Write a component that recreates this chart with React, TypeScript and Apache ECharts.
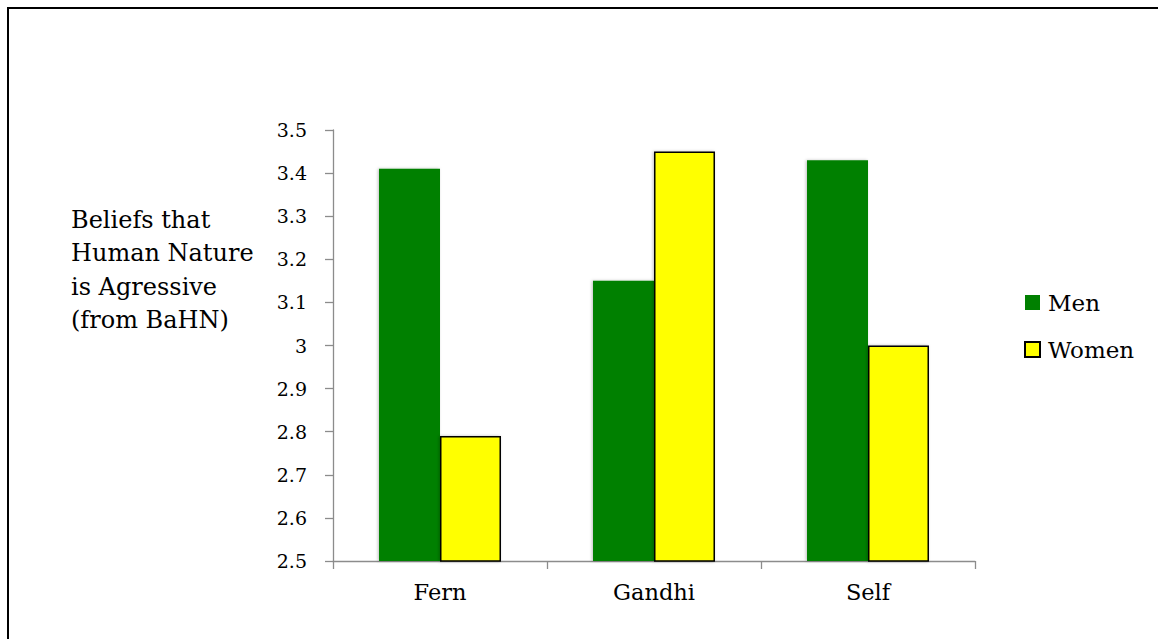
import React, { useEffect, useRef } from "react";
import * as echarts from "echarts";

const categories = ["Fern", "Gandhi", "Self"];
const menValues = [3.41, 3.15, 3.43];
const womenValues = [2.79, 3.45, 3.0];
const seriesNames = ["Men", "Women"];
const yAxisTitle = "Beliefs that\nHuman Nature\nis Agressive\n(from BaHN)";

const FONT = "DejaVu Serif";
const AXIS_COLOR = "#8c8c8c";

export default function App() {
  const ref = useRef<HTMLDivElement>(null);

  useEffect(() => {
    if (!ref.current) return;
    const chart = echarts.init(ref.current, null, { renderer: "svg" });
    chart.setOption({
      animation: false,
      backgroundColor: "#ffffff",
      textStyle: { fontFamily: FONT, color: "#000" },
      grid: { left: 333, right: 183, top: 130, bottom: 78, containLabel: false },
      legend: {
        orient: "vertical",
        left: 1019,
        top: 286,
        itemWidth: 15,
        itemHeight: 15,
        itemGap: 24,
        icon: "rect",
        textStyle: { fontFamily: FONT, fontSize: 23, color: "#000", padding: [0, 0, 0, 3] },
        data: seriesNames,
      },
      xAxis: {
        type: "category",
        data: categories,
        axisLine: { lineStyle: { color: AXIS_COLOR, width: 1.3 } },
        axisTick: { show: true, length: 8, lineStyle: { color: AXIS_COLOR, width: 1.3 } },
        axisLabel: { fontFamily: FONT, fontSize: 22.5, color: "#000", margin: 19 },
      },
      yAxis: {
        type: "value",
        min: 2.5,
        max: 3.5,
        interval: 0.1,
        axisLine: { show: true, lineStyle: { color: AXIS_COLOR, width: 1.3 } },
        axisTick: { show: true, length: 8, lineStyle: { color: AXIS_COLOR, width: 1.3 } },
        splitLine: { show: false },
        axisLabel: {
          fontFamily: FONT,
          fontSize: 19,
          color: "#000",
          margin: 26,
          formatter: (v: number) => String(Math.round(v * 10) / 10),
        },
      },
      series: [
        {
          name: seriesNames[0],
          type: "bar",
          data: menValues,
          barGap: "0%",
          barCategoryGap: "43%",
          itemStyle: {
            color: "#008000",
            shadowBlur: 3,
            shadowColor: "rgba(0,0,0,0.25)",
            shadowOffsetX: -1,
          },
        },
        {
          name: seriesNames[1],
          type: "bar",
          data: womenValues,
          barGap: "0%",
          barCategoryGap: "43%",
          itemStyle: {
            color: "#ffff00",
            borderColor: "#000",
            borderWidth: 1.5,
            shadowBlur: 3,
            shadowColor: "rgba(0,0,0,0.25)",
            shadowOffsetX: -1,
          },
        },
      ],
      graphic: [
        {
          type: "text",
          left: 71,
          top: 203,
          style: {
            text: yAxisTitle,
            fontFamily: FONT,
            fontSize: 24,
            lineHeight: 33.5,
            fill: "#000",
          },
        },
        {
          type: "rect",
          shape: { x: 8, y: 8, width: 1300, height: 800 },
          style: { fill: "none", stroke: "#000", lineWidth: 2 },
          silent: true,
        },
      ],
    });
    return () => chart.dispose();
  }, []);

  return (
    <div
      ref={ref}
      style={{ position: "fixed", left: 0, top: 0, width: 1158, height: 639, background: "#fff" }}
    />
  );
}
